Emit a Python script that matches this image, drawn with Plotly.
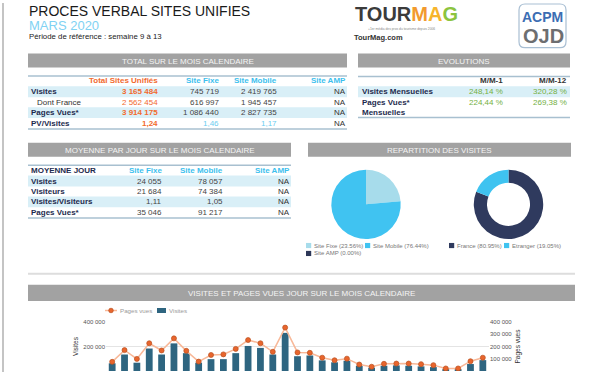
import plotly.graph_objects as go

# ---------------- DATA ----------------
t1_headers = ["Total Sites Unifiés", "Site Fixe", "Site Mobile", "Site AMP"]
t1_rows = ["Visites", "Dont France", "Pages Vues*", "PV/Visites"]
t1_total = ["3 165 484", "2 562 454", "3 914 175", "1,24"]
t1_fixe = ["745 719", "616 997", "1 086 440", "1,46"]
t1_mobile = ["2 419 765", "1 945 457", "2 827 735", "1,17"]
t1_amp = ["NA", "NA", "NA", "NA"]

evo_headers = ["M/M-1", "M/M-12"]
evo_rows = ["Visites Mensuelles", "Pages Vues*<br>Mensuelles"]
evo_m1 = ["248,14 %", "224,44 %"]
evo_m12 = ["320,28 %", "269,38 %"]

t2_headers = ["MOYENNE JOUR", "Site Fixe", "Site Mobile", "Site AMP"]
t2_rows = ["Visites", "Visiteurs", "Visites/Visiteurs", "Pages Vues*"]
t2_fixe = ["24 055", "21 684", "1,11", "35 046"]
t2_mobile = ["78 057", "74 384", "1,05", "91 217"]
t2_amp = ["NA", "NA", "NA", "NA"]

rep_labels = ["Site Fixe", "Site Mobile", "Site AMP"]
rep_values = [745719, 2419765, 0]
geo_labels = ["France", "Etranger"]
geo_values = [2562454, 603030]

days = ["01/03", "02/03", "03/03", "04/03", "05/03", "06/03", "07/03", "08/03",
        "09/03", "10/03", "11/03", "12/03", "13/03", "14/03", "15/03", "16/03",
        "17/03", "18/03", "19/03", "20/03", "21/03", "22/03", "23/03", "24/03",
        "25/03", "26/03", "27/03", "28/03", "29/03", "30/03", "31/03"]
visites = [63000, 135000, 68000, 184000, 135000, 226000, 146000, 68000, 97000, 97000,
           146000, 205000, 189000, 135000, 312000, 121000, 127000, 87000, 71000, 84000,
           43000, 27000, 43000, 46000, 43000, 38000, 32000, 15000, 15000, 57000, 89000]
pages_vues = [75000, 171000, 99000, 227000, 168000, 267000, 165000, 77000, 131000, 136000,
              181000, 253000, 227000, 157000, 355000, 152000, 149000, 109000, 88000, 101000,
              53000, 35000, 59000, 61000, 61000, 56000, 48000, 21000, 21000, 80000, 109000]

# ---------------- STYLE ----------------
W, H = 600, 372
FONT = "Arial, Liberation Sans, Helvetica, sans-serif"
NAVY = "#1e2b4e"
ORANGE = "#f26a2e"
LBLUE = "#3dbfee"
GREEN = "#74b043"
GRAYTXT = "#444444"
BAND = "#d9eff7"
RULE = "#a8c0d0"
HEAD = "#a2a2a2"

def X(p):
    return p / W

def Y(p):
    return 1 - p / H

shapes = []
annots = []

def text(x, y, s, size=8, color="#222", anchor="left", bold=False, family=FONT):
    if bold:
        s = "<b>" + s + "</b>"
    annots.append(dict(x=X(x), y=Y(y), xref="paper", yref="paper", text=s,
                       showarrow=False, xanchor=anchor, yanchor="middle", align=anchor,
                       font=dict(family=family, size=size, color=color),
                       borderpad=0))

def rect(x0, y0, x1, y1, fill, line=None, lw=0):
    shapes.append(dict(type="rect", xref="paper", yref="paper",
                       x0=X(x0), x1=X(x1), y0=Y(y1), y1=Y(y0),
                       fillcolor=fill, line=dict(color=line or fill, width=lw), layer="below"))

def hline(y, x0, x1, color=RULE, w=1.5):
    shapes.append(dict(type="line", xref="paper", yref="paper",
                       x0=X(x0), x1=X(x1), y0=Y(y), y1=Y(y),
                       line=dict(color=color, width=w), layer="below"))

def header(x0, x1, y0, y1, s):
    rect(x0, y0, x1, y1, HEAD)
    text((x0 + x1) / 2, (y0 + y1) / 2 + 0.5, s, size=8, color="#f4f4f4", anchor="center")

# page border
shapes.append(dict(type="line", xref="paper", yref="paper", x0=X(3), x1=X(3), y0=0, y1=1,
                   line=dict(color="#b0b0b0", width=1.5)))

# titles
text(28, 8.5, "PROCES VERBAL SITES UNIFIES", size=14, color="#1a1a1a")
text(28, 22.5, "MARS 2020", size=13, color="#7fd2f3")
text(28, 34, "Période de référence : semaine 9 à 13", size=7.8, color="#222")

# TourMag logo (text)
text(354, 11.5, "<b><span style='color:#3b3b3b'>TOUR</span><span style='color:#f29a2e'>M</span>"
     "<span style='color:#f7b52c'>A</span><span style='color:#8cc43f'>G</span></b>",
     size=20)
text(367, 26.3, "+1er média des pros du tourisme depuis 2006", size=3.3, color="#888")
text(353, 34.5, "TourMag.com", size=7.5, color="#333", bold=True)

# ACPM OJD logo
r = 6
x0, x1, y0, y1 = 519, 566, 1, 45
path = (f"M {X(x0+r)},{Y(y0)} L {X(x1-r)},{Y(y0)} Q {X(x1)},{Y(y0)} {X(x1)},{Y(y0+r)} "
        f"L {X(x1)},{Y(y1-r)} Q {X(x1)},{Y(y1)} {X(x1-r)},{Y(y1)} "
        f"L {X(x0+r)},{Y(y1)} Q {X(x0)},{Y(y1)} {X(x0)},{Y(y1-r)} "
        f"L {X(x0)},{Y(y0+r)} Q {X(x0)},{Y(y0)} {X(x0+r)},{Y(y0)} Z")
shapes.append(dict(type="path", xref="paper", yref="paper", path=path,
                   fillcolor="white", line=dict(color="#a9bfd3", width=1.2)))
text(542.5, 14, "ACPM", size=14, color="#3c6db3", anchor="center", bold=True)
text(543, 33.5, "OJD", size=20, color="#6d6e70", anchor="center", bold=True)

# ---------- Table 1: TOTAL SUR LE MOIS CALENDAIRE ----------
header(28, 347, 51, 65, "TOTAL SUR LE MOIS CALENDAIRE")
hline(73.5, 28, 347)
hline(127, 28, 347)
t1_cx = [159, 220, 278, 347]
t1_y = [89.5, 100, 110.5, 121.3]
rect(28, 84, 347, 95, BAND)
rect(28, 105, 347, 116, BAND)
text(t1_cx[0], 78.5, t1_headers[0], color=ORANGE, anchor="right", bold=True)
for cx, h in zip(t1_cx[1:], t1_headers[1:]):
    text(cx, 78.5, h, color=LBLUE, anchor="right", bold=True)
for i, lab in enumerate(t1_rows):
    y = t1_y[i]
    sub = (i == 1)
    text(36 if sub else 30, y, lab, color=NAVY if not sub else "#333", bold=not sub)
    text(t1_cx[0], y, t1_total[i], color=ORANGE, anchor="right", bold=not sub)
    vc = "#6ccdf1" if i == 3 else GRAYTXT
    text(t1_cx[1], y, t1_fixe[i], color=vc, anchor="right")
    text(t1_cx[2], y, t1_mobile[i], color=vc, anchor="right")
    text(t1_cx[3], y, t1_amp[i], color="#333", anchor="right")

# ---------- EVOLUTIONS ----------
header(358, 570, 51, 65, "EVOLUTIONS")
hline(74, 358, 570)
hline(115.5, 358, 570)
rect(358, 84, 570, 95, BAND)
evo_cx = [504, 568]
for cx, h in zip(evo_cx, evo_headers):
    text(cx, 78.5, h, color="#333", anchor="right", bold=True)
text(361, 89.5, evo_rows[0], color=NAVY, bold=True)
text(361, 105.3, evo_rows[1], color=NAVY, bold=True)
text(evo_cx[0], 89.5, evo_m1[0], color=GREEN, anchor="right")
text(evo_cx[1], 89.5, evo_m12[0], color=GREEN, anchor="right")
text(evo_cx[0], 100, evo_m1[1], color=GREEN, anchor="right")
text(evo_cx[1], 100, evo_m12[1], color=GREEN, anchor="right")

# ---------- Table 2: MOYENNE PAR JOUR ----------
header(28, 291, 141, 155, "MOYENNE PAR JOUR SUR LE MOIS CALENDAIRE")
hline(163.5, 28, 291)
hline(216.8, 28, 291)
rect(28, 174, 291, 185, BAND)
rect(28, 195, 291, 206, BAND)
t2_cx = [163, 224, 291]
t2_y = [179.5, 190, 200.5, 211]
text(30, 169, t2_headers[0], color=NAVY, bold=True)
for cx, h in zip(t2_cx, t2_headers[1:]):
    text(cx, 169, h, color=LBLUE, anchor="right", bold=True)
for i, lab in enumerate(t2_rows):
    y = t2_y[i]
    text(30, y, lab, color=NAVY, bold=True)
    text(t2_cx[0], y, t2_fixe[i], color=GRAYTXT, anchor="right")
    text(t2_cx[1], y, t2_mobile[i], color=GRAYTXT, anchor="right")
    text(t2_cx[2], y, t2_amp[i], color="#333", anchor="right")

# ---------- REPARTITION DES VISITES ----------
header(308, 571, 141, 155, "REPARTITION DES VISITES")
rep_colors = ["#a7dceb", "#40c3f1", "#2d3758"]
geo_colors = ["#2f3a5e", "#3fc3f0"]

fig = go.Figure()
fig.add_trace(go.Pie(labels=rep_labels, values=rep_values, sort=False, direction="clockwise",
                     rotation=0, textinfo="none", hoverinfo="label+percent",
                     marker=dict(colors=rep_colors, line=dict(width=0)),
                     domain=dict(x=[X(331), X(401)], y=[Y(238), Y(168)]), showlegend=False))
fig.add_trace(go.Pie(labels=geo_labels, values=geo_values, sort=False, direction="clockwise",
                     rotation=0, textinfo="none", hole=0.62, hoverinfo="label+percent",
                     marker=dict(colors=geo_colors, line=dict(width=0)),
                     domain=dict(x=[X(473), X(544)], y=[Y(238), Y(168)]), showlegend=False))

def legend_sq(x, y, color, label):
    rect(x, y - 2.6, x + 5.2, y + 2.6, color)
    text(x + 7, y, label, size=6, color="#777")

rep_tot = sum(rep_values)
geo_tot = sum(geo_values)
rep_leg = [f"{l} ({v / rep_tot * 100:.2f}%)" for l, v in zip(rep_labels, rep_values)]
geo_leg = [f"{l} ({v / geo_tot * 100:.2f}%)" for l, v in zip(geo_labels, geo_values)]
legend_sq(306, 244.5, rep_colors[0], rep_leg[0])
legend_sq(365, 244.5, rep_colors[1], rep_leg[1])
legend_sq(306, 252.5, rep_colors[2], rep_leg[2])
legend_sq(449, 244.5, geo_colors[0], geo_leg[0])
legend_sq(504, 244.5, geo_colors[1], geo_leg[1])

# ---------- VISITES ET PAGES VUES ----------
hline(273, 28, 575, color="#dddddd", w=2)
header(28, 575, 284, 300.5, "VISITES ET PAGES VUES JOUR SUR LE MOIS CALENDAIRE")

BARC = "#2e6580"
LINEC = "#f8b898"
MARKC = "#e8652d"
fig.add_trace(go.Bar(x=days, y=visites, name="Visites", marker=dict(color=BARC, line=dict(width=0)),
                     xaxis="x", yaxis="y", showlegend=False))
fig.add_trace(go.Scatter(x=days, y=pages_vues, name="Pages vues", mode="lines+markers",
                         xaxis="x", yaxis="y2", showlegend=False,
                         line=dict(color=LINEC, width=1.5),
                         marker=dict(size=5, color=MARKC, line=dict(color="#b9501f", width=0.7))))

# manual legend
hline(310, 105, 117, color=LINEC, w=1.5)
shapes.append(dict(type="circle", xref="paper", yref="paper", x0=X(108.7), x1=X(113.3),
                   y0=Y(312.3), y1=Y(307.7), fillcolor=MARKC, line=dict(color="#b9501f", width=0.7)))
text(119, 310, "Pages vues", size=6.2, color="#9a9a9a")
rect(157, 307.5, 166, 312.5, BARC)
text(168, 310, "Visites", size=6.2, color="#9a9a9a")

fig.update_layout(
    width=W, height=H, margin=dict(l=0, r=0, t=0, b=0),
    paper_bgcolor="white", plot_bgcolor="white",
    separators=", ",
    font=dict(family=FONT, size=7, color="#333"),
    bargap=0.45,
    shapes=shapes, annotations=annots,
    xaxis=dict(domain=[X(106), X(489)], type="category", range=[-0.5, len(days) - 0.5],
               showticklabels=False, showgrid=False, zeroline=False, showline=False, ticks=""),
    yaxis=dict(domain=[Y(371), Y(321.7)], range=[0, 400000], dtick=200000, tickformat=",d",
               gridcolor="#e4e4e4", gridwidth=1, zeroline=False, showline=False, ticks="",
               tickfont=dict(size=6, color="#555"),
               title=dict(text="Visites", font=dict(size=6.5, color="#333"), standoff=4)),
    yaxis2=dict(domain=[Y(371), Y(321.7)], range=[0, 400000], dtick=100000, tickformat=",d",
                overlaying="y", side="right", anchor="x", showgrid=False, zeroline=False,
                showline=False, ticks="", tickfont=dict(size=6, color="#555"),
                title=dict(text="Pages vues", font=dict(size=6.5, color="#333"), standoff=4)),
)

fig.write_html("out.html", config={"displayModeBar": False},
               post_script="document.body.style.margin='0px';")
